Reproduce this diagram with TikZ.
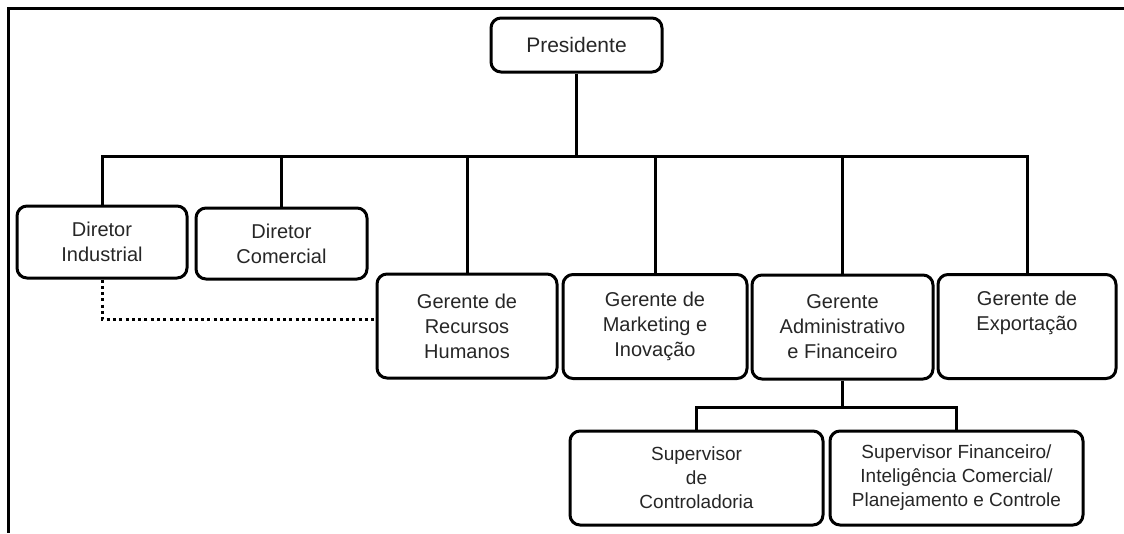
\documentclass[tikz,border=0pt]{standalone}
\usepackage{fontspec}
\setmainfont{Liberation Sans}
\begin{document}
\begin{tikzpicture}[x=1pt,y=-1pt,
  box/.style={draw=black, line width=3pt, rounded corners=10pt, align=center,
    inner sep=0pt, text=black!85, font=\fontsize{20}{25}\selectfont},
  subbox/.style={box, font=\fontsize{19}{24}\selectfont},
  link/.style={draw=black, line width=3pt},
  dotline/.style={draw=black, line width=3pt, dash pattern=on 3pt off 3.3pt},
  frameline/.style={draw=black, line width=3pt}]
\useasboundingbox (0,0) rectangle (1124,533);

% outer frame (top and left edges)
\draw[frameline] (1124,8) -- (8,8) -- (8,533);

% top level
\node[box, font=\fontsize{21}{25}\selectfont, minimum width=171pt, minimum height=54pt] (pres) at (576.5,45) {Presidente};

% directors
\node[box, minimum width=170pt, minimum height=72pt] (dind) at (102,242) {Diretor\\Industrial};
\node[box, minimum width=171pt, minimum height=71pt] (dcom) at (281.5,243.5) {Diretor\\Comercial};

% managers
\node[box, minimum width=180pt, minimum height=104pt] (grh) at (467,326) {Gerente de\\Recursos\\Humanos};
\node[box, minimum width=184pt, minimum height=104pt] (gmk) at (655,326.5) {Gerente de\\Marketing e\\Inovação};
\node[box, minimum width=181pt, minimum height=104pt] (gadm) at (842.5,327) {Gerente\\Administrativo\\e Financeiro};
\node[box, minimum width=178pt, minimum height=104pt] (gexp) at (1027,326.5) {Gerente de\\Exportação\\\strut};

% supervisors
\node[subbox, minimum width=253pt, minimum height=94pt] (sctl) at (696.5,478) {Supervisor\\de\\Controladoria};
\node[subbox, minimum width=253pt, minimum height=94pt] (sfin) at (956.5,478) {Supervisor Financeiro/\\Inteligência Comercial/\\Planejamento e Controle};

% bus lines
\coordinate (bus) at (576.5,156);
\coordinate (subbus) at (842.5,407);

\draw[link] (pres.south) -- (bus);
\foreach \n in {dind,dcom,grh,gmk,gadm,gexp}
  \draw[link] (\n.north) |- (bus);

\draw[link] (gadm.south) -- (subbus);
\foreach \n in {sctl,sfin}
  \draw[link] (\n.north) |- (subbus);

% dotted staff relation
\draw[dotline] (dind.south) |- ([yshift=7pt]grh.west);
\end{tikzpicture}
\end{document}
